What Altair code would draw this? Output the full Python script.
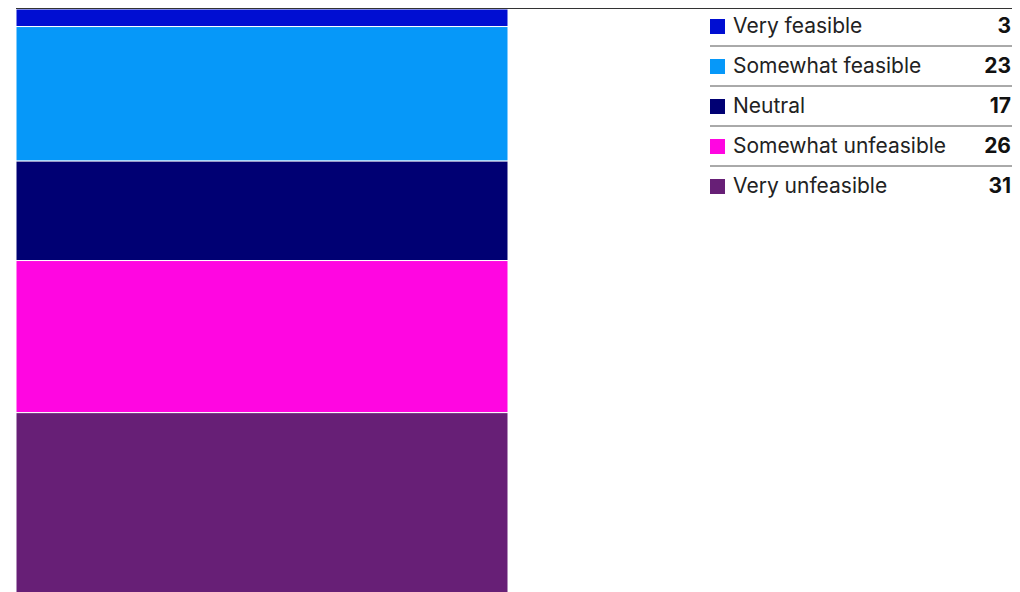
import altair as alt
import pandas as pd

categories = ["Very feasible", "Somewhat feasible", "Neutral", "Somewhat unfeasible", "Very unfeasible"]
values = [3, 23, 17, 26, 31]
colors = ["#000ed2", "#0698f9", "#000073", "#ff06e1", "#671f76"]

df = pd.DataFrame({"category": categories, "value": values, "idx": list(range(len(categories)))})

color_scale = alt.Scale(domain=categories, range=colors)

base = alt.Chart(df)

bar = base.transform_window(
    y_end="sum(value)", sort=[alt.SortField("idx")], frame=[None, 0]
).transform_calculate(
    y_start="datum.y_end - datum.value"
).mark_rect(stroke="white", strokeWidth=1).encode(
    x=alt.value(8),
    x2=alt.value(500),
    y=alt.Y("y_start:Q", scale=alt.Scale(domain=[0, 100], range=[1, 586]), axis=None),
    y2="y_end:Q",
    color=alt.Color("category:N", scale=color_scale, legend=None),
)

row_scale = alt.Scale(domain=[0, 1], range=[18, 58])

squares = base.mark_square(size=225, filled=True, opacity=1, yOffset=0.5).encode(
    x=alt.value(709.5),
    y=alt.Y("idx:Q", scale=row_scale, axis=None),
    color=alt.Color("category:N", scale=color_scale, legend=None),
)

labels = base.mark_text(align="left", baseline="middle", fontSize=21, font="Inter", color="#222222", dy=1).encode(
    x=alt.value(725),
    y=alt.Y("idx:Q", scale=row_scale, axis=None),
    text="category:N",
)

nums = base.mark_text(align="right", baseline="middle", fontSize=21, font="Inter", fontWeight="bold", color="#111111", dy=1).encode(
    x=alt.value(1003),
    y=alt.Y("idx:Q", scale=row_scale, axis=None),
    text="value:Q",
)

seps = base.transform_filter("datum.idx < 4").transform_calculate(
    sep="datum.idx + 0.5"
).mark_rule(color="#555555", strokeWidth=1).encode(
    x=alt.value(702),
    x2=alt.value(1004),
    y=alt.Y("sep:Q", scale=row_scale, axis=None),
)

top = base.transform_filter("datum.idx == 0").mark_rule(color="#333333", strokeWidth=1).encode(
    x=alt.value(8),
    x2=alt.value(1004),
    y=alt.value(0.5),
)

chart = alt.layer(bar, seps, top, squares, labels, nums).resolve_scale(y="independent").properties(
    width=1004,
    height=586,
    padding=0,
    autosize=alt.AutoSizeParams(type="none"),
).configure_view(stroke=None)

chart.save("out.html", embed_options={"renderer": "svg", "actions": False})
